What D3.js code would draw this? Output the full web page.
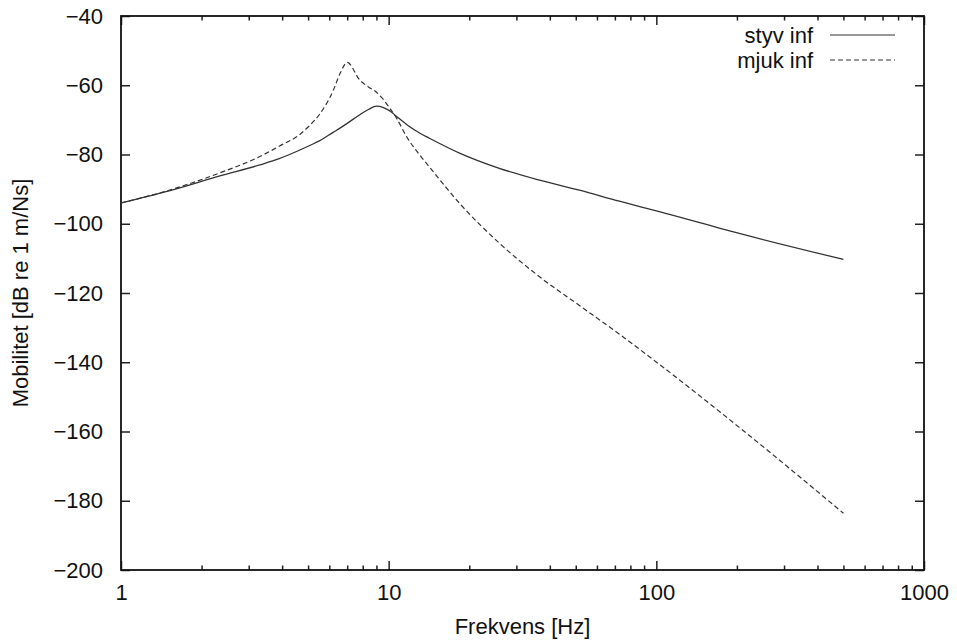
<!DOCTYPE html>
<html>
<head>
<meta charset="utf-8">
<script src="https://cdn.jsdelivr.net/npm/d3@7"></script>
<style>
  body { margin: 0; background: #fff; }
  svg { display: block; font-family: "Liberation Sans", Arial, sans-serif; }
  .tick text { font-size: 22px; fill: #111; }
  .tick line { stroke: #222; stroke-width: 1.5; }
  .domain { display: none; }
</style>
</head>
<body>
<div id="chart"></div>
<script>
// frequencies (Hz)
const freq = [1, 1.5, 2.34, 3.3, 3.9, 4.66, 5.07, 5.53, 6.2, 6.6, 7.0, 7.8, 8.4, 9.0, 10.1, 10.7, 11.7, 13.05, 14.2, 18.4, 25.9, 36.6, 51.6, 72.8, 102.6, 204, 500];
// mobility in dB re 1 m/Ns
const styvInf = [-94.0, -90.6, -86.2, -83.0, -81.2, -78.7, -77.4, -76.0, -73.6, -72.3, -71.0, -68.5, -67.0, -66.0, -67.4, -69.0, -71.4, -73.8, -75.3, -79.6, -84.0, -87.4, -90.3, -93.5, -96.5, -102.8, -110.3];
const mjukInf = [-94.0, -90.4, -85.3, -80.6, -77.6, -74.2, -71.6, -68.3, -61.6, -56.4, -53.4, -58.5, -60.5, -62.0, -66.6, -69.5, -75.0, -80.1, -83.6, -94.1, -105.6, -115.3, -123.6, -131.9, -140.6, -158.8, -183.6];

const xMajor = [1, 10, 100, 1000];
const xMinor = [2, 3, 4, 5, 6, 7, 8, 9, 20, 30, 40, 50, 60, 70, 80, 90, 200, 300, 400, 500, 600, 700, 800, 900];
const yTicks = [-200, -180, -160, -140, -120, -100, -80, -60, -40];

const seriesNames = ["styv inf", "mjuk inf"];

const width = 957, height = 640;
const margin = { top: 16, right: 33, bottom: 70, left: 121 };

const svg = d3.select("#chart").append("svg")
  .attr("width", width)
  .attr("height", height);

const x = d3.scaleLog()
  .domain([1, 1000])
  .range([margin.left, width - margin.right]);
const y = d3.scaleLinear()
  .domain([-200, -40])
  .range([height - margin.bottom, margin.top]);

const minus = v => String(v).replace("-", "\u2212");

// bottom axis, ticks pointing inward
svg.append("g")
  .attr("transform", `translate(0,${y(-200)})`)
  .call(d3.axisBottom(x).tickValues(xMajor).tickFormat(d3.format("d")).tickSize(-9).tickPadding(14));
svg.append("g")
  .attr("transform", `translate(0,${y(-200)})`)
  .call(d3.axisBottom(x).tickValues(xMinor).tickFormat("").tickSize(-4.5));
// top axis mirror
svg.append("g")
  .attr("transform", `translate(0,${y(-40)})`)
  .call(d3.axisTop(x).tickValues(xMajor).tickFormat("").tickSize(-9));
svg.append("g")
  .attr("transform", `translate(0,${y(-40)})`)
  .call(d3.axisTop(x).tickValues(xMinor).tickFormat("").tickSize(-4.5));
// left + right axes
svg.append("g")
  .attr("transform", `translate(${x(1)},0)`)
  .call(d3.axisLeft(y).tickValues(yTicks).tickFormat(minus).tickSize(-9).tickPadding(18));
svg.append("g")
  .attr("transform", `translate(${x(1000)},0)`)
  .call(d3.axisRight(y).tickValues(yTicks).tickFormat("").tickSize(-9));

// frame
svg.append("rect")
  .attr("x", x(1))
  .attr("y", y(-40))
  .attr("width", x(1000) - x(1))
  .attr("height", y(-200) - y(-40))
  .attr("fill", "none")
  .attr("stroke", "#111")
  .attr("stroke-width", 1.8);

// curves
const line = d3.line()
  .x((d, i) => x(freq[i]))
  .y(d => y(d))
  .curve(d3.curveMonotoneX);

svg.append("path")
  .datum(styvInf)
  .attr("fill", "none")
  .attr("stroke", "#333")
  .attr("stroke-width", 1.3)
  .attr("d", line);

svg.append("path")
  .datum(mjukInf)
  .attr("fill", "none")
  .attr("stroke", "#333")
  .attr("stroke-width", 1.2)
  .attr("stroke-dasharray", "5,3")
  .attr("d", line);

// legend
const legend = svg.append("g").attr("transform", "translate(813,35)");
seriesNames.forEach((name, i) => {
  const g = legend.append("g").attr("transform", `translate(0,${i * 25})`);
  g.append("text")
    .attr("text-anchor", "end")
    .attr("dy", "0.35em")
    .attr("font-size", 22)
    .attr("fill", "#111")
    .text(name);
  g.append("line")
    .attr("x1", 17).attr("x2", 82)
    .attr("y1", 0).attr("y2", 0)
    .attr("stroke", "#333")
    .attr("stroke-width", 1.2)
    .attr("stroke-dasharray", i === 1 ? "5,3" : null);
});

// axis titles
svg.append("text")
  .attr("x", (x(1) + x(1000)) / 2)
  .attr("y", 634)
  .attr("text-anchor", "middle")
  .attr("font-size", 22)
  .attr("fill", "#111")
  .text("Frekvens [Hz]");

svg.append("text")
  .attr("transform", `translate(28,${(y(-40) + y(-200)) / 2}) rotate(-90)`)
  .attr("text-anchor", "middle")
  .attr("font-size", 22)
  .attr("fill", "#111")
  .text("Mobilitet [dB re 1 m/Ns]");
</script>
</body>
</html>
